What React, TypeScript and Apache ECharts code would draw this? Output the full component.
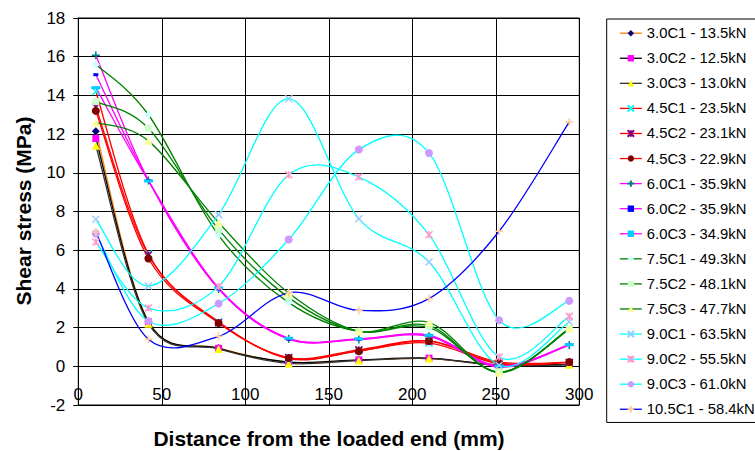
import React, { useEffect, useRef } from "react";
import * as echarts from "echarts";

const xValues = [10.5, 42, 84, 126, 168, 210, 252, 294];

const seriesNames = [
  "3.0C1 - 13.5kN",
  "3.0C2 - 12.5kN",
  "3.0C3 - 13.0kN",
  "4.5C1 - 23.5kN",
  "4.5C2 - 23.1kN",
  "4.5C3 - 22.9kN",
  "6.0C1 - 35.9kN",
  "6.0C2 - 35.9kN",
  "6.0C3 - 34.9kN",
  "7.5C1 - 49.3kN",
  "7.5C2 - 48.1kN",
  "7.5C3 - 47.7kN",
  "9.0C1 - 63.5kN",
  "9.0C2 - 55.5kN",
  "9.0C3 - 61.0kN",
  "10.5C1 - 58.4kN",
];

const s30C1 = [12.15, 2.3, 0.95, 0.2, 0.32, 0.4, 0.08, 0.1];
const s30C2 = [11.77, 2.3, 0.93, 0.22, 0.33, 0.42, 0.06, 0.1];
const s30C3 = [11.4, 2.2, 0.9, 0.15, 0.3, 0.4, 0.05, 0.08];
const s45C1 = [14.2, 5.8, 2.3, 0.4, 0.8, 1.2, 0.12, 0.2];
const s45C2 = [13.4, 5.75, 2.25, 0.45, 0.85, 1.3, 0.16, 0.2];
const s45C3 = [13.2, 5.57, 2.24, 0.43, 0.78, 1.31, 0.22, 0.22];
const s60C1 = [16.07, 9.6, 4.0, 1.43, 1.38, 1.55, -0.05, 1.1];
const s60C2 = [15.07, 9.6, 4.0, 1.4, 1.4, 1.6, 0.0, 1.12];
const s60C3 = [14.4, 9.58, 4.05, 1.45, 1.42, 1.6, 0.02, 1.12];
const s75C1 = [15.6, 13.0, 6.77, 3.29, 1.8, 2.0, -0.3, 1.9];
const s75C2 = [13.68, 12.3, 7.08, 3.55, 1.8, 2.1, -0.3, 1.95];
const s75C3 = [12.6, 11.65, 7.43, 3.79, 1.82, 2.26, -0.33, 1.97];
const s90C1 = [7.6, 4.15, 7.84, 13.83, 7.63, 5.39, 0.05, 2.3];
const s90C2 = [6.42, 3.01, 4.13, 9.9, 9.78, 6.8, 0.48, 2.58];
const s90C3 = [6.86, 2.33, 3.24, 6.55, 11.2, 11.02, 2.38, 3.38];
const s105C1 = [6.94, 1.4, 1.55, 3.8, 2.89, 3.5, 6.98, 12.63];

const yTicks = { min: -2, max: 18, interval: 2 };
const xTicks = { min: 0, max: 300, interval: 50 };

const allValues = [
  s30C1, s30C2, s30C3, s45C1, s45C2, s45C3, s60C1, s60C2, s60C3,
  s75C1, s75C2, s75C3, s90C1, s90C2, s90C3, s105C1,
];

const X_PATH = "path://M0,0L10,10M10,0L0,10";
const PLUS_PATH = "path://M5,0L5,10M0,5L10,5";
const STAR_PATH = "path://M0,0L10,10M10,0L0,10M5,0L5,10";

type Style = {
  line: string;
  marker: string;
  symbol: string;
  size: number | number[];
  stroke?: boolean;
};

const styles: Style[] = [
  { line: "#FF8000", marker: "#000080", symbol: "diamond", size: 8 },
  { line: "#000000", marker: "#FF00FF", symbol: "rect", size: 7 },
  { line: "#333333", marker: "#FFFF00", symbol: "triangle", size: 8 },
  { line: "#FF0000", marker: "#00FFFF", symbol: X_PATH, size: 7, stroke: true },
  { line: "#FF0000", marker: "#800080", symbol: STAR_PATH, size: 7, stroke: true },
  { line: "#FF0000", marker: "#800000", symbol: "circle", size: 8 },
  { line: "#FF00FF", marker: "#008080", symbol: PLUS_PATH, size: 8, stroke: true },
  { line: "#FF00FF", marker: "#0000FF", symbol: "rect", size: [5, 3] },
  { line: "#FF00FF", marker: "#00CCFF", symbol: "rect", size: [9, 3] },
  { line: "#008000", marker: "#CCFFFF", symbol: "diamond", size: 8 },
  { line: "#008000", marker: "#CCFFCC", symbol: "rect", size: 7 },
  { line: "#008000", marker: "#FFFF99", symbol: "triangle", size: 8 },
  { line: "#00FFFF", marker: "#99CCFF", symbol: X_PATH, size: 7, stroke: true },
  { line: "#00FFFF", marker: "#FF99CC", symbol: STAR_PATH, size: 7, stroke: true },
  { line: "#00FFFF", marker: "#CC99FF", symbol: "circle", size: 8 },
  { line: "#0000FF", marker: "#FFCC99", symbol: PLUS_PATH, size: 8, stroke: true },
];

const FONT = '"Liberation Sans", Arial, sans-serif';
const LINE_W = 1.3;
const TENSION = 1 / 6;

// Excel-like smoothed line (Catmull-Rom to cubic Bezier) through pixel points
function splinePath(pts: number[][]): string {
  let d = `M${pts[0][0]},${pts[0][1]}`;
  for (let i = 0; i < pts.length - 1; i++) {
    const p0 = pts[i - 1] || pts[i];
    const p1 = pts[i];
    const p2 = pts[i + 1];
    const p3 = pts[i + 2] || p2;
    const c1x = p1[0] + (p2[0] - p0[0]) * TENSION;
    const c1y = p1[1] + (p2[1] - p0[1]) * TENSION;
    const c2x = p2[0] - (p3[0] - p1[0]) * TENSION;
    const c2y = p2[1] - (p3[1] - p1[1]) * TENSION;
    d += ` C${c1x},${c1y} ${c2x},${c2y} ${p2[0]},${p2[1]}`;
  }
  return d;
}

export default function App() {
  const ref = useRef<HTMLDivElement>(null);

  useEffect(() => {
    if (!ref.current) return;
    const chart = echarts.init(ref.current, undefined, { renderer: "svg" });

    const curveSeries = seriesNames.map((name, i) => {
      const st = styles[i];
      const points = xValues.map((x, j) => [x, allValues[i][j]]);
      return {
        name: "curve-" + name,
        type: "custom",
        data: points,
        encode: { x: 0, y: 1 },
        silent: true,
        z: 2,
        renderItem: (params: any, api: any) => {
          if (params.dataIndex !== 0) return null;
          const px = points.map((p) => api.coord(p));
          return {
            type: "path",
            shape: { pathData: splinePath(px) },
            style: { stroke: st.line, lineWidth: LINE_W, fill: "none" },
          };
        },
      };
    });

    const markerSeries = seriesNames.map((name, i) => {
      const st = styles[i];
      return {
        name,
        type: "line",
        data: xValues.map((x, j) => [x, allValues[i][j]]),
        symbol: st.symbol,
        symbolSize: st.size,
        showSymbol: true,
        lineStyle: { color: st.line, width: LINE_W, opacity: 0 },
        itemStyle: st.stroke
          ? { color: st.marker, borderColor: st.marker, borderWidth: 1.5 }
          : { color: st.marker, borderWidth: 0 },
        emphasis: { disabled: true },
        z: 3,
      };
    });

    chart.setOption({
      animation: false,
      textStyle: { fontFamily: FONT },
      grid: {
        left: 78.3,
        right: 175.7,
        top: 18,
        bottom: 46,
        show: true,
        borderColor: "#000",
        borderWidth: 1,
        containLabel: false,
      },
      xAxis: {
        type: "value",
        min: xTicks.min,
        max: xTicks.max,
        interval: xTicks.interval,
        offset: -38.7,
        axisLine: { show: true, onZero: false, lineStyle: { color: "#000", width: 1 } },
        axisTick: { show: true, inside: false, length: 5, lineStyle: { color: "#000" } },
        axisLabel: { margin: 20, fontSize: 17, color: "#000", fontFamily: FONT },
        splitLine: { show: true, lineStyle: { color: "#000", width: 1 } },
      },
      yAxis: {
        type: "value",
        min: yTicks.min,
        max: yTicks.max,
        interval: yTicks.interval,
        axisLine: { show: true, lineStyle: { color: "#000", width: 1 } },
        axisTick: { show: true, inside: false, length: 5, lineStyle: { color: "#000" } },
        axisLabel: { margin: 13, fontSize: 17, color: "#000", fontFamily: FONT },
        splitLine: { show: true, lineStyle: { color: "#000", width: 1 } },
      },
      legend: {
        orient: "vertical",
        left: 606.7,
        top: 19,
        padding: [6.7, 14, 5.7, 12.5],
        itemWidth: 22,
        itemHeight: 8,
        itemGap: 10.07,
        borderColor: "#000",
        borderWidth: 1,
        backgroundColor: "#fff",
        selectedMode: false,
        textStyle: { fontSize: 14.8, color: "#000", fontFamily: FONT, lineHeight: 14 },
        data: seriesNames.map((name, i) => ({
          name,
          lineStyle: { color: styles[i].line, width: LINE_W, opacity: 1 },
        })),
      },
      graphic: [
        {
          type: "text",
          x: 23,
          y: 211,
          rotation: Math.PI / 2,
          style: {
            text: "Shear stress (MPa)",
            font: `bold 21px ${FONT}`,
            fill: "#000",
            align: "center",
            verticalAlign: "middle",
          },
        },
        {
          type: "text",
          x: 329,
          y: 438,
          style: {
            text: "Distance from the loaded end (mm)",
            font: `bold 21px ${FONT}`,
            fill: "#000",
            align: "center",
            verticalAlign: "middle",
          },
        },
      ],
      series: [...curveSeries, ...markerSeries],
    });

    return () => chart.dispose();
  }, []);

  return (
    <div
      ref={ref}
      style={{ position: "fixed", left: 0, top: 0, width: 755, height: 451, background: "#fff" }}
    />
  );
}
